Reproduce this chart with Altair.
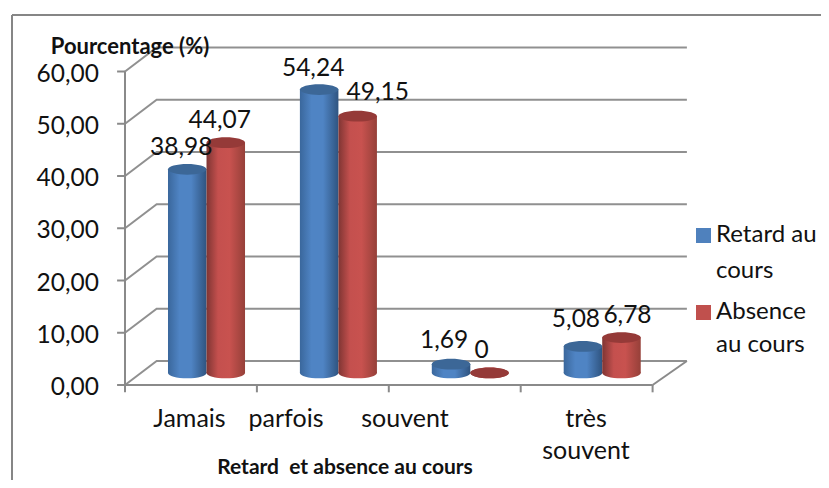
import altair as alt
import pandas as pd

categories = ["Jamais", "parfois", "souvent", "très souvent"]
retard = [38.98, 54.24, 1.69, 5.08]
absence = [44.07, 49.15, 0, 6.78]
retard_labels = ["38,98", "54,24", "1,69", "5,08"]
absence_labels = ["44,07", "49,15", "0", "6,78"]
y_levels = [0, 10, 20, 30, 40, 50, 60]
y_tick_labels = ["0,00", "10,00", "20,00", "30,00", "40,00", "50,00", "60,00"]
x_ticks = [0, 1, 2, 3, 4]

W, H = 813, 472
UX, UY = 131.9, 5.225
X0, Y0 = 125 - 8, 385 - 8
x_scale = alt.Scale(domain=[-X0 / UX, (W - X0) / UX], zero=False, nice=False)
y_scale = alt.Scale(domain=[(Y0 - H) / UY, Y0 / UY], zero=False, nice=False)
GRID = "#8a8a8a"
FONT = "Lato"
X = lambda f="x": alt.X(f, type="quantitative", scale=x_scale, axis=None)
Y = lambda f="y": alt.Y(f, type="quantitative", scale=y_scale, axis=None)

# depth projection of the oblique floor
DX_L, DX_R, DY = 0.24, 4.26, 4.6

grid_rows = []
for lv in y_levels:
    for k, (gx, gy) in enumerate([(0, lv), (DX_L, lv + DY), (DX_R, lv + DY)]):
        grid_rows.append({"level": lv, "x": gx, "y": gy, "k": k})
grid = alt.Chart(pd.DataFrame(grid_rows)).mark_line(stroke=GRID, strokeWidth=2, opacity=0.95).encode(
    x=X(), y=Y(), detail="level:N", order="k:Q")

segs = [
    (0, 0, 0, 60), (0, 0, 4, 0), (4, 0, DX_R, DY),
] + [(-0.06, lv, 0, lv) for lv in y_levels] + [(t, 0, t, -1.4) for t in x_ticks]
seg_df = pd.DataFrame(segs, columns=["x", "y", "x2", "y2"])
axes_lines = alt.Chart(seg_df).mark_rule(stroke=GRID, strokeWidth=2).encode(
    x=X(), y=Y(), x2="x2:Q", y2="y2:Q")

ytext = alt.Chart(pd.DataFrame({"y": y_levels, "t": y_tick_labels, "x": [0] * 7})).mark_text(
    font=FONT, fontSize=24.5, align="right", baseline="middle", dx=-26, dy=3, color="#111111").encode(
    x=X(), y=Y(), text="t:N")


def grad(edge1, mid1, mid2, edge2):
    return alt.LinearGradient(
        gradient="linear", x1=0, x2=1, y1=0, y2=0,
        stops=[alt.GradientStop(color=edge1, offset=0),
               alt.GradientStop(color=mid1, offset=0.3),
               alt.GradientStop(color=mid2, offset=0.6),
               alt.GradientStop(color=edge2, offset=1)])


ELL = "M-1,0A1,0.28 0 1 1 1,0A1,0.28 0 1 1 -1,0Z"
BASE = 2.3
BAR = 0.292
OFFS = 0.618


def cylinder(values, side, fill, top):
    rows = []
    for i, v in enumerate(values):
        c = i + OFFS + side * BAR / 2
        rows.append({"x": c, "xl": c - BAR / 2, "xr": c + BAR / 2, "base": BASE, "top": BASE + v})
    df = pd.DataFrame(rows)
    size = 38.5 ** 2
    return [
        alt.Chart(df).mark_point(shape=ELL, size=size, filled=True, fill=fill, opacity=1, strokeWidth=0).encode(
            x=X(), y=Y("base")),
        alt.Chart(df).mark_rect(fill=fill).encode(x=X("xl"), x2="xr:Q", y=Y("base"), y2="top:Q"),
        alt.Chart(df).mark_point(shape=ELL, size=size, filled=True, fill=top, opacity=1, strokeWidth=0).encode(
            x=X(), y=Y("top")),
    ]


blue = cylinder(retard, -1, grad("#3a679c", "#4f84c4", "#4f84c4", "#2f5480"), "#3c6797")
red = cylinder(absence, 1, grad("#7f3533", "#c4504e", "#c8524f", "#964039"), "#953a38")


def val_label(cat, side, value, label, dx, dy):
    df = pd.DataFrame([{"x": cat + OFFS + side * BAR / 2, "y": BASE + value, "t": label}])
    return alt.Chart(df).mark_text(font=FONT, fontSize=24.5, align="center", baseline="middle",
                                   dx=dx, dy=dy, color="#111111").encode(x=X(), y=Y(), text="t:N")


labels = [
    val_label(0, -1, retard[0], retard_labels[0], -6, -21),
    val_label(1, -1, retard[1], retard_labels[1], -6, -21),
    val_label(2, -1, retard[2], retard_labels[2], -7, -23),
    val_label(3, -1, retard[3], retard_labels[3], -7, -26),
    val_label(0, 1, absence[0], absence_labels[0], -6, -22),
    val_label(1, 1, absence[1], absence_labels[1], 20, -23),
    val_label(2, 1, absence[2], absence_labels[2], -8, -22),
    val_label(3, 1, absence[3], absence_labels[3], 6, -22),
]


def px_text(sx, sy, s, size=25, bold=False, align="left"):
    return alt.Chart(pd.DataFrame({"t": [s]})).mark_text(
        font=FONT, fontSize=size, fontWeight="bold" if bold else "normal",
        align=align, baseline="middle", color="#111111").encode(
        x=alt.value(sx - 8), y=alt.value(sy - 8), text="t:N")


def px_square(sx, sy, color):
    return alt.Chart(pd.DataFrame({"a": [1]})).mark_rect(fill=color).encode(
        x=alt.value(sx - 8), x2=alt.value(sx + 15 - 8), y=alt.value(sy - 8), y2=alt.value(sy + 15 - 8))


texts = [
    px_text(189.5, 419, categories[0], align="center"),
    px_text(286, 419, categories[1], align="center"),
    px_text(405, 419, categories[2], align="center"),
    px_text(586, 419, "très", align="center"),
    px_text(586, 451, "souvent", align="center"),
    px_text(345, 468, "Retard \u00a0et absence au cours", size=21, bold=True, align="center"),
    px_text(130, 47, "Pourcentage (%)", size=22, bold=True, align="center"),
    px_text(716, 235, "Retard au", size=24),
    px_text(716, 271, "cours", size=24),
    px_text(716, 312, "Absence", size=24),
    px_text(716, 345, "au cours", size=24),
    px_square(696, 228, "#4f81bd"),
    px_square(696, 305, "#c0504d"),
]

frame = [
    alt.Chart(pd.DataFrame({"a": [1]})).mark_rule(stroke="#868686", strokeWidth=2).encode(
        x=alt.value(12 - 8), x2=alt.value(W), y=alt.value(15 - 8)),
    alt.Chart(pd.DataFrame({"a": [1]})).mark_rule(stroke="#868686", strokeWidth=2).encode(
        x=alt.value(12 - 8), y=alt.value(15 - 8), y2=alt.value(H)),
]

chart = alt.layer(*frame, grid, axes_lines, ytext, *blue, *red, *labels, *texts).properties(
    width=W, height=H, padding=0, autosize=alt.AutoSizeParams(type="none"),
    background="white",
).configure_view(stroke=None)

chart.save("out.html", embed_options={"renderer": "svg", "actions": False})
